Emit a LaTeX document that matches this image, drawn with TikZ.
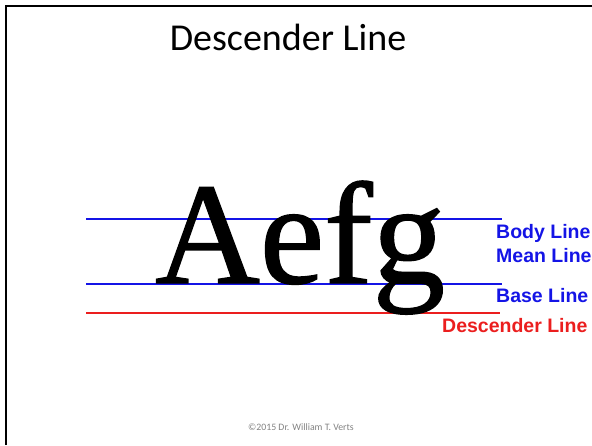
\documentclass[tikz,border=0pt]{standalone}
\usepackage{fontspec}
\setmainfont{Carlito}
\newfontfamily\serifface[FakeBold=1.0]{Liberation Serif}
\newfontfamily\labelface{Liberation Sans}
\definecolor{guideblue}{RGB}{20,20,230}
\definecolor{guidered}{RGB}{235,30,30}
\definecolor{notegray}{RGB}{130,130,130}
\begin{document}
\begin{tikzpicture}[x=1pt,y=-1pt,
  guide/.style={line width=2pt},
  tag/.style={font=\labelface\bfseries\fontsize{19.5}{21}\selectfont, anchor=base west, inner sep=0pt},
]
\useasboundingbox (0,0) rectangle (592,445);
\clip (0,0) rectangle (592,445);
% slide frame (left and top edges)
\draw[line width=2.2pt] (6,445) -- (6,5.6) -- (592,5.6);

% title
\node[font=\fontsize{38}{40}\selectfont, anchor=base, inner sep=0pt] (title) at (288,50) {Descender Line};

% guide lines
\coordinate (bodyL) at (86,218.5);  \coordinate (bodyR) at (502,218.5);
\coordinate (baseL) at (86,283.5);  \coordinate (baseR) at (502,283.5);
\coordinate (descL) at (86,313);    \coordinate (descR) at (500,313);
\draw[guide, guideblue] (bodyL) -- (bodyR);
\draw[guide, guideblue] (baseL) -- (baseR);
\draw[guide, guidered] (descL) -- (descR);

% sample word
\node[font=\serifface\fontsize{145}{150}\selectfont, anchor=base west, inner sep=0pt] (word) at (155,283) {Aefg};

% labels
\node[tag, text=guideblue] (body) at (496,238) {Body Line};
\node[tag, text=guideblue] (mean) at (496,262) {Mean Line};
\node[tag, text=guideblue] (base) at (496,302) {Base Line};
\node[tag, text=guidered] (desc) at (442,332) {Descender Line};

% footer
\node[font=\fontsize{9.8}{11}\selectfont, text=notegray, anchor=base, inner sep=0pt] (foot) at (301,430) {\textcopyright2015 Dr. William T. Verts};
\end{tikzpicture}
\end{document}
